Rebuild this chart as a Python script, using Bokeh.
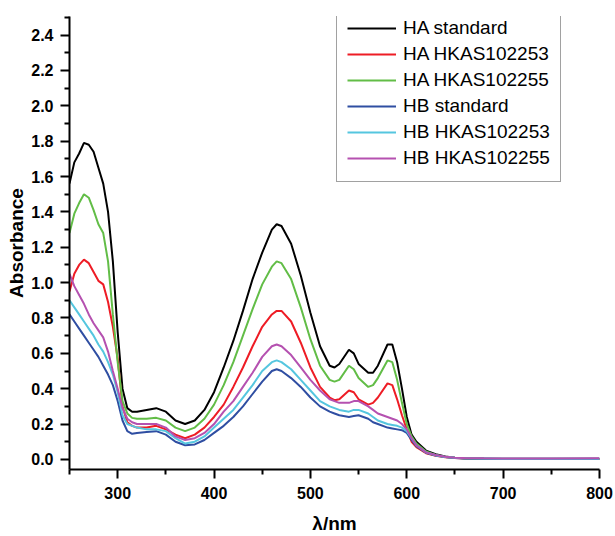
from bokeh.plotting import figure
from bokeh.models import Range1d, FixedTicker, PrintfTickFormatter, Legend, LegendItem
from bokeh.embed import file_html
from bokeh.resources import INLINE

wavelength = [250, 255, 260, 265, 270, 275, 280, 285, 290, 295, 300, 305, 310, 315, 320,
              330, 340, 350, 360, 370, 380, 390, 400, 410, 420, 430, 440, 450, 460,
              465, 470, 480, 490, 500, 510, 520, 525, 530, 540, 545, 550, 560, 565, 570,
              580, 585, 590, 595, 600, 605, 610, 620, 630, 640, 650, 660, 680, 700, 750, 800]

ha_standard = [1.56, 1.68, 1.73, 1.79, 1.78, 1.74, 1.65, 1.56, 1.40, 1.12, 0.72, 0.40, 0.29, 0.27, 0.27,
               0.28, 0.29, 0.27, 0.22, 0.20, 0.22, 0.28, 0.38, 0.52, 0.67, 0.84, 1.02, 1.17, 1.30,
               1.33, 1.32, 1.22, 1.04, 0.83, 0.64, 0.53, 0.52, 0.54, 0.62, 0.60, 0.54, 0.49, 0.49, 0.53,
               0.65, 0.65, 0.55, 0.40, 0.24, 0.14, 0.10, 0.05, 0.03, 0.016, 0.010, 0.007, 0.005, 0.004, 0.004, 0.004]

ha_102253 = [0.95, 1.05, 1.10, 1.13, 1.11, 1.06, 1.01, 0.99, 0.89, 0.75, 0.57, 0.30, 0.21, 0.19, 0.18,
             0.18, 0.19, 0.17, 0.14, 0.12, 0.14, 0.18, 0.24, 0.31, 0.41, 0.52, 0.64, 0.75, 0.82,
             0.84, 0.84, 0.78, 0.66, 0.52, 0.41, 0.35, 0.335, 0.34, 0.39, 0.38, 0.34, 0.31, 0.32, 0.35,
             0.43, 0.42, 0.34, 0.25, 0.17, 0.10, 0.07, 0.035, 0.02, 0.012, 0.008, 0.005, 0.004, 0.003, 0.003, 0.003]

ha_102255 = [1.28, 1.39, 1.45, 1.50, 1.48, 1.41, 1.33, 1.28, 1.12, 0.82, 0.55, 0.33, 0.26, 0.235, 0.23,
             0.23, 0.235, 0.22, 0.18, 0.16, 0.18, 0.23, 0.31, 0.42, 0.55, 0.70, 0.85, 0.99, 1.09,
             1.12, 1.11, 1.02, 0.86, 0.68, 0.53, 0.45, 0.44, 0.45, 0.53, 0.51, 0.46, 0.41, 0.42, 0.46,
             0.56, 0.55, 0.45, 0.32, 0.20, 0.13, 0.09, 0.045, 0.025, 0.014, 0.009, 0.006, 0.004, 0.003, 0.003, 0.003]

hb_standard = [0.82, 0.78, 0.74, 0.70, 0.66, 0.62, 0.58, 0.53, 0.48, 0.42, 0.33, 0.22, 0.16, 0.145, 0.15,
               0.155, 0.16, 0.14, 0.10, 0.08, 0.085, 0.11, 0.15, 0.19, 0.24, 0.30, 0.37, 0.44, 0.50,
               0.51, 0.50, 0.46, 0.41, 0.35, 0.30, 0.27, 0.26, 0.25, 0.24, 0.245, 0.25, 0.23, 0.21, 0.20,
               0.18, 0.175, 0.17, 0.165, 0.15, 0.11, 0.075, 0.038, 0.022, 0.013, 0.008, 0.005, 0.004, 0.003, 0.003, 0.003]

hb_102253 = [0.90, 0.86, 0.82, 0.78, 0.74, 0.70, 0.65, 0.61, 0.55, 0.48, 0.38, 0.25, 0.20, 0.19, 0.18,
             0.17, 0.17, 0.16, 0.12, 0.09, 0.10, 0.13, 0.18, 0.23, 0.28, 0.35, 0.42, 0.50, 0.55,
             0.56, 0.55, 0.51, 0.45, 0.39, 0.33, 0.30, 0.29, 0.28, 0.27, 0.28, 0.28, 0.26, 0.24, 0.22,
             0.20, 0.195, 0.19, 0.18, 0.16, 0.12, 0.08, 0.04, 0.024, 0.014, 0.009, 0.006, 0.005, 0.004, 0.004, 0.004]

hb_102255 = [1.05, 0.98, 0.93, 0.88, 0.82, 0.77, 0.73, 0.69, 0.61, 0.50, 0.40, 0.29, 0.23, 0.21, 0.20,
             0.20, 0.20, 0.18, 0.13, 0.11, 0.12, 0.15, 0.20, 0.27, 0.33, 0.41, 0.49, 0.58, 0.64,
             0.65, 0.64, 0.59, 0.52, 0.45, 0.39, 0.34, 0.33, 0.32, 0.32, 0.33, 0.33, 0.30, 0.28, 0.26,
             0.24, 0.23, 0.22, 0.20, 0.17, 0.12, 0.08, 0.04, 0.025, 0.015, 0.010, 0.008, 0.006, 0.005, 0.005, 0.006]

series_names = ["HA standard", "HA HKAS102253", "HA HKAS102255",
                "HB standard", "HB HKAS102253", "HB HKAS102255"]
series_values = [ha_standard, ha_102253, ha_102255, hb_standard, hb_102253, hb_102255]
series_colors = ["#000000", "#ee1c25", "#62bd47", "#2f4ea2", "#55c6df", "#b551b0"]

x_major = [300, 400, 500, 600, 700, 800]
x_minor = [250, 350, 450, 550, 650, 750]
y_major = [0.0, 0.2, 0.4, 0.6, 0.8, 1.0, 1.2, 1.4, 1.6, 1.8, 2.0, 2.2, 2.4]
y_minor = [0.1, 0.3, 0.5, 0.7, 0.9, 1.1, 1.3, 1.5, 1.7, 1.9, 2.1, 2.3, 2.5]

FONT = "Liberation Sans"

p = figure(width=615, height=536, output_backend="svg", toolbar_location=None,
           x_range=Range1d(250, 800), y_range=Range1d(-0.057, 2.505),
           min_border_left=69, min_border_right=16, min_border_top=16, min_border_bottom=67)
p.outline_line_color = None
p.xgrid.visible = False
p.ygrid.visible = False
p.background_fill_color = "white"
p.border_fill_color = "white"

items = []
for name, vals, col in zip(series_names, series_values, series_colors):
    r = p.line(wavelength, vals, line_color=col, line_width=2)
    items.append(LegendItem(label=name, renderers=[r]))

for ax in (p.xaxis[0], p.yaxis[0]):
    ax.axis_line_width = 2
    ax.axis_line_color = "black"
    ax.major_tick_line_width = 2
    ax.minor_tick_line_width = 2
    ax.major_tick_in = 0
    ax.major_tick_out = 9
    ax.minor_tick_in = 0
    ax.minor_tick_out = 5
    ax.major_label_text_font = FONT
    ax.major_label_text_font_style = "bold"
    ax.major_label_text_font_size = "16px"
    ax.major_label_text_color = "black"
    ax.axis_label_text_font = FONT
    ax.axis_label_text_font_style = "bold"
    ax.axis_label_text_font_size = "19px"
    ax.axis_label_text_color = "black"

p.xaxis[0].ticker = FixedTicker(ticks=x_major, minor_ticks=x_minor)
p.yaxis[0].ticker = FixedTicker(ticks=y_major, minor_ticks=y_minor)
p.yaxis[0].formatter = PrintfTickFormatter(format="%.1f")
p.xaxis[0].axis_label = "λ/nm"
p.yaxis[0].axis_label = "Absorbance"
p.xaxis[0].major_label_standoff = 8
p.yaxis[0].major_label_standoff = 7
p.xaxis[0].axis_label_standoff = 11
p.yaxis[0].axis_label_standoff = 1

legend = Legend(items=items, location=(267, 287))
legend.border_line_color = "#444444"
legend.border_line_width = 1
legend.label_text_font = FONT
legend.label_text_font_size = "19px"
legend.label_text_color = "black"
legend.glyph_width = 49
legend.glyph_height = 26
legend.label_height = 26
legend.label_standoff = 7
legend.spacing = 0
legend.padding = 10
legend.margin = 0
legend.background_fill_alpha = 1
p.add_layout(legend)

open("out.html", "w").write(file_html(p, INLINE))
